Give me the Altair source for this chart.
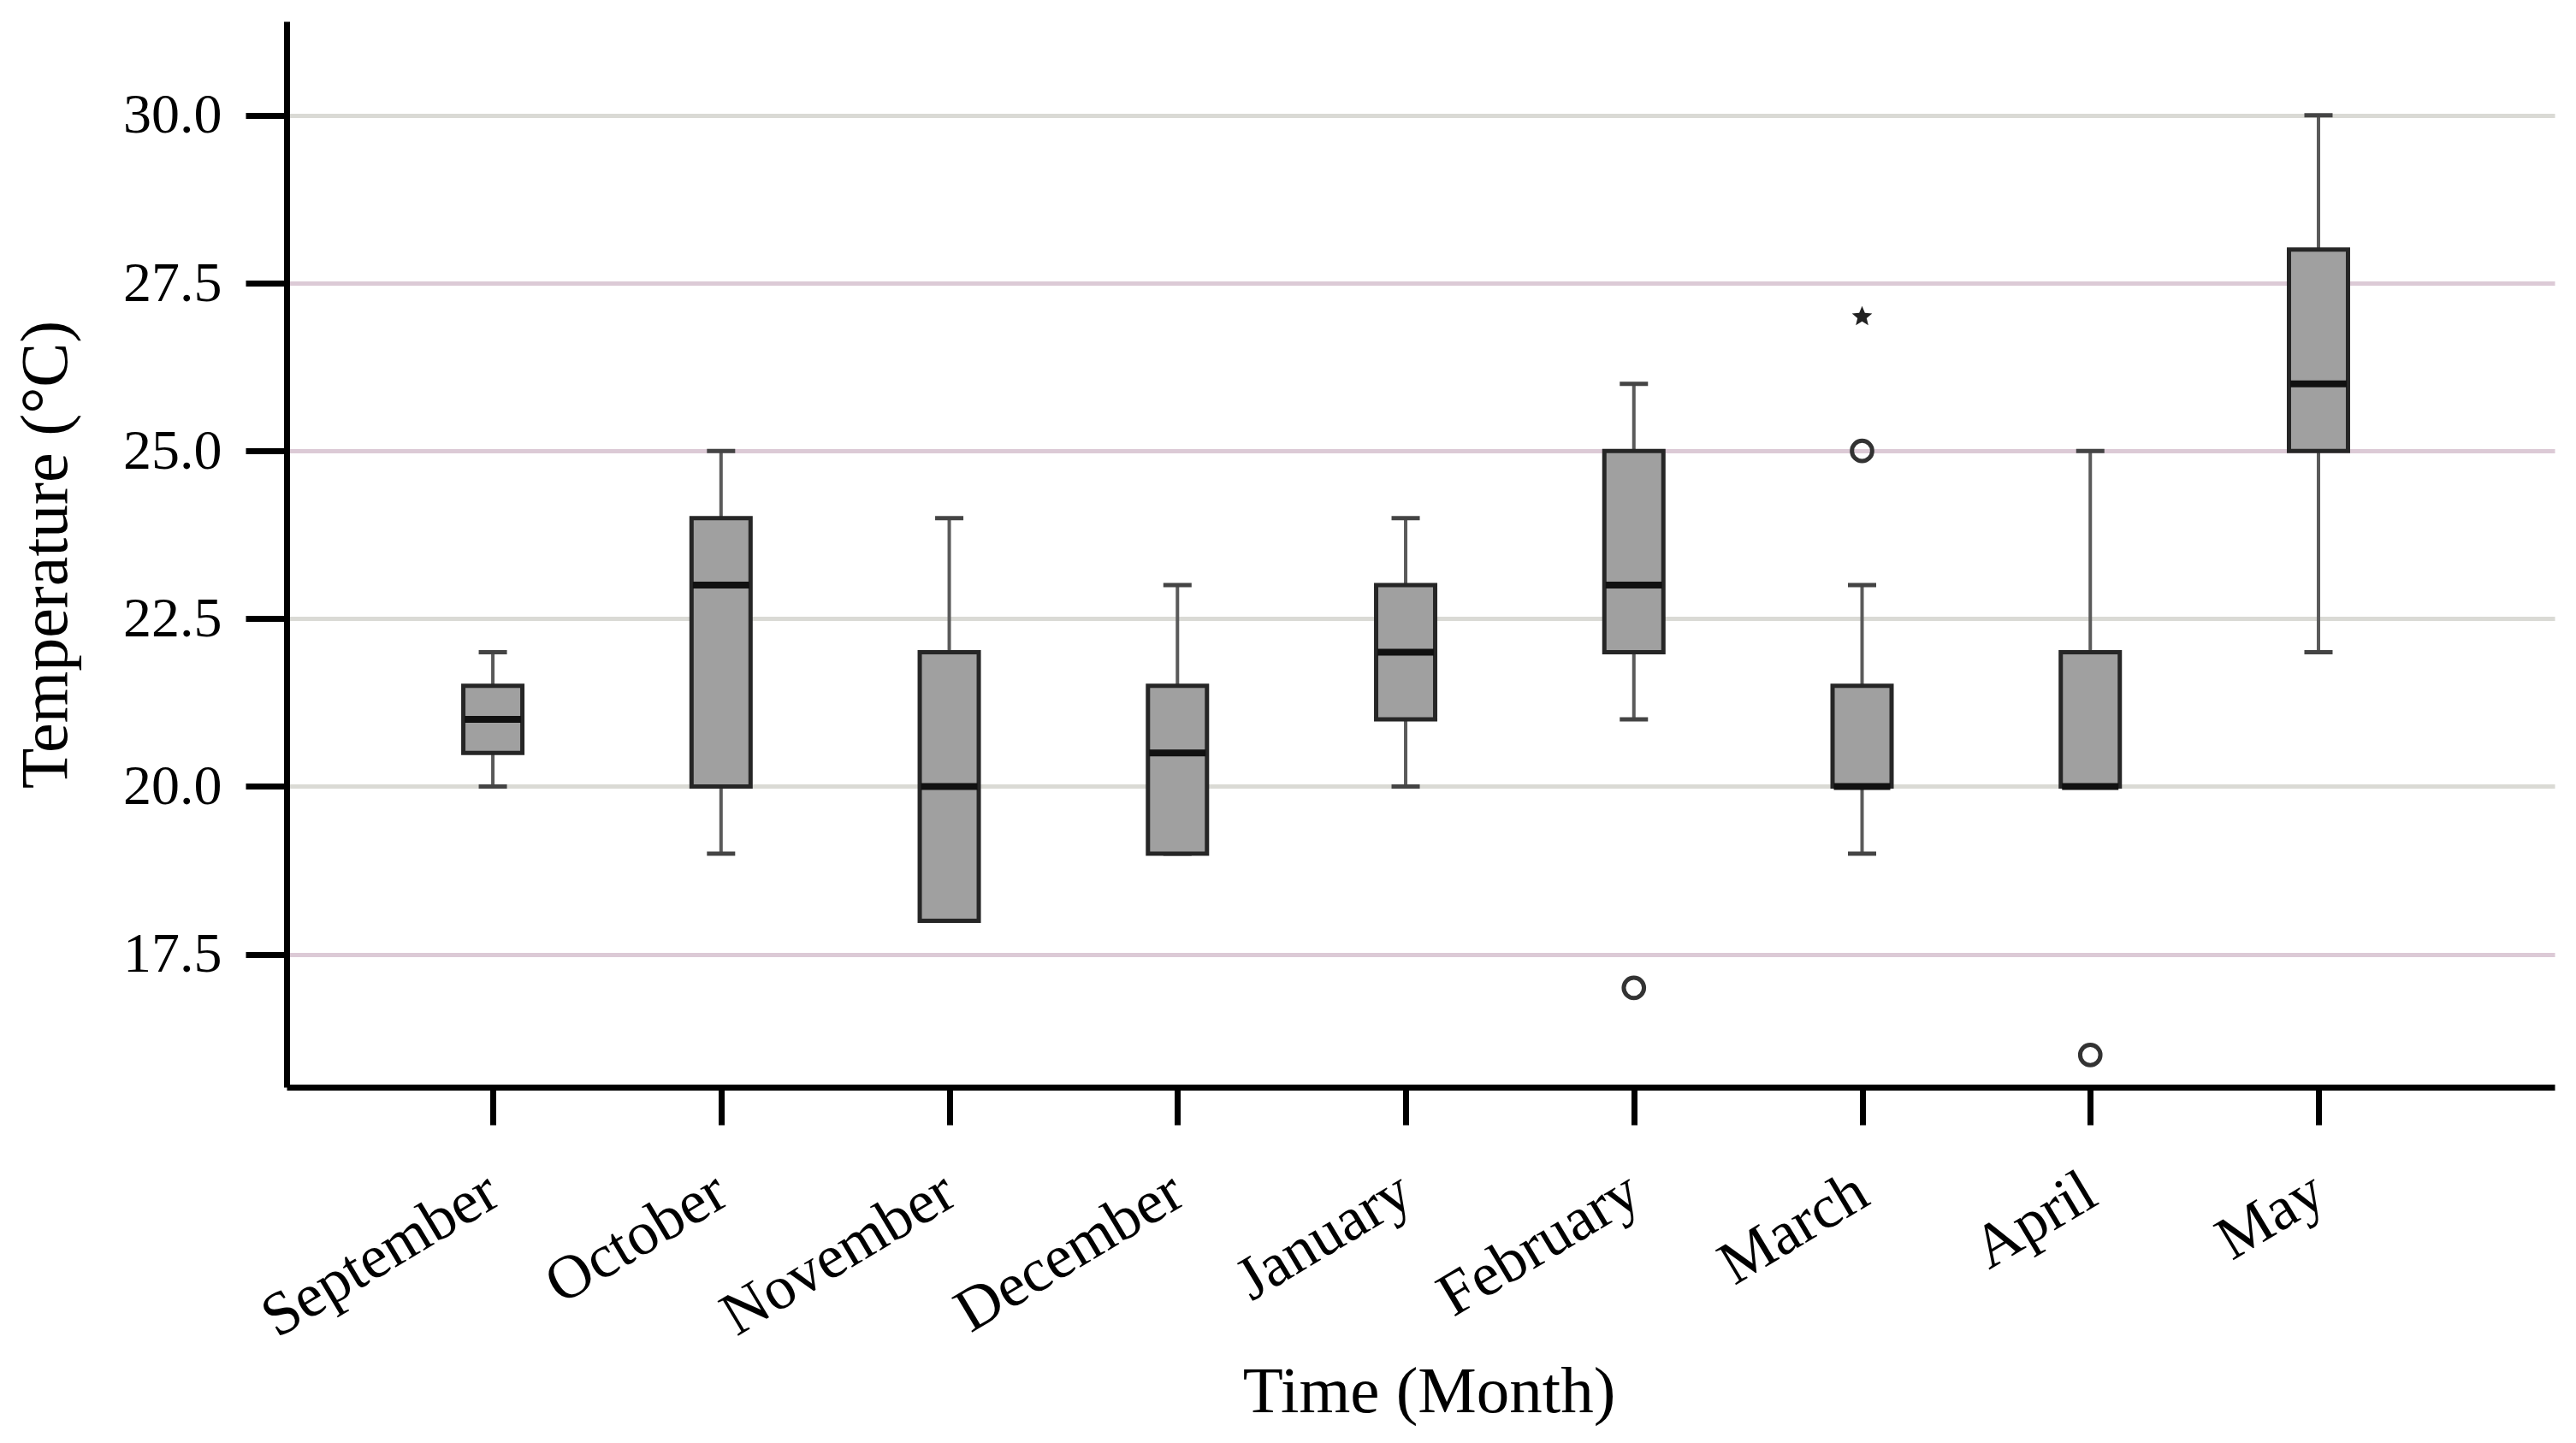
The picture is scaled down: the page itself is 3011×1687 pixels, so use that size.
import math
import altair as alt
import pandas as pd

months = ["September", "October", "November", "December", "January",
          "February", "March", "April", "May"]
whisker_low = [20.0, 19.0, 18.0, 19.0, 20.0, 21.0, 19.0, 20.0, 22.0]
q1 = [20.5, 20.0, 18.0, 19.0, 21.0, 22.0, 20.0, 20.0, 25.0]
median = [21.0, 23.0, 20.0, 20.5, 22.0, 23.0, 20.0, 20.0, 26.0]
q3 = [21.5, 24.0, 22.0, 21.5, 23.0, 25.0, 21.5, 22.0, 28.0]
whisker_high = [22.0, 25.0, 24.0, 23.0, 24.0, 26.0, 23.0, 25.0, 30.0]

outlier_month = ["February", "March", "April"]
outlier_value = [17.0, 25.0, 16.0]
extreme_month = ["March"]
extreme_value = [27.0]

y_ticks = [17.5, 20.0, 22.5, 25.0, 27.5, 30.0]
pink_grid = [17.5, 25.0, 27.5]

box_df = pd.DataFrame({
    "i": list(range(len(months))),
    "month": months,
    "lo": whisker_low, "q1": q1, "med": median, "q3": q3, "hi": whisker_high,
})
out_df = pd.DataFrame({"i": [months.index(m) for m in outlier_month],
                       "v": outlier_value})
ext_df = pd.DataFrame({"i": [months.index(m) for m in extreme_month],
                       "v": extreme_value})

# five-pointed star marker shape
pts = []
for k in range(10):
    r = 1.0 if k % 2 == 0 else 0.45
    a = -math.pi / 2 + k * math.pi / 5
    pts.append("%.3f,%.3f" % (r * math.cos(a), r * math.sin(a)))
star_path = "M" + "L".join(pts) + "Z"

FONT = "Liberation Serif"
label_expr = "[" + ",".join("'%s'" % m for m in months) + "][datum.value]"
grid_test = " || ".join("datum.value == %s" % v for v in pink_grid)

x_scale = alt.Scale(domain=[-0.885, 9.016], nice=False, zero=False)
y_scale = alt.Scale(domain=[15.52, 31.40], nice=False, zero=False)

x_axis = alt.Axis(
    orient="bottom",
    values=list(range(len(months))), labelExpr=label_expr, title="Time (Month)",
    grid=False, labelAngle=-31, labelAlign="right", labelBaseline="middle",
    labelFont=FONT, labelFontSize=72, labelColor="black", labelPadding=72,
    labelLimit=0, labelOverlap=False,
    tickSize=44, tickWidth=7, tickColor="black", domainWidth=7, domainColor="black",
    titleFont=FONT, titleFontSize=77, titleFontWeight="normal", titleColor="black",
    titleX=1335, titleY=379, titleBaseline="alphabetic", titleAlign="center",
)
y_axis = alt.Axis(
    orient="left",
    values=y_ticks, format=".1f", title="Temperature (°C)",
    grid=True, gridWidth=5,
    gridColor={"condition": {"test": grid_test, "value": "#dccad6"}, "value": "#dadad5"},
    labelFont=FONT, labelFontSize=66, labelColor="black", labelPadding=28,
    tickSize=48, tickWidth=7, tickColor="black", domainWidth=7, domainColor="black",
    titleFont=FONT, titleFontSize=78, titleFontWeight="normal", titleColor="black",
    titleX=-258, titleY=623, titleBaseline="alphabetic", titleAlign="center",
    titleAngle=270,
)

X = alt.X("i:Q", scale=x_scale, axis=x_axis)

base = alt.Chart(box_df)

whisker = base.mark_rule(color="#5a5a5a", strokeWidth=4).encode(
    x=X,
    y=alt.Y("lo:Q", scale=y_scale, axis=y_axis),
    y2="hi:Q",
)
cap_lo = base.mark_tick(orient="horizontal", size=33, thickness=5, color="#444444",
                        opacity=1).encode(
    x=X, y=alt.Y("lo:Q", scale=y_scale, axis=y_axis))
cap_hi = base.mark_tick(orient="horizontal", size=33, thickness=5, color="#444444",
                        opacity=1).encode(
    x=X, y=alt.Y("hi:Q", scale=y_scale, axis=y_axis))
box = base.mark_bar(size=69, orient="vertical", fill="#a0a0a0", stroke="#262626",
                    strokeWidth=5).encode(
    x=X, y=alt.Y("q1:Q", scale=y_scale, axis=y_axis), y2="q3:Q")
med = base.mark_tick(orient="horizontal", size=66, thickness=8, color="#111111",
                     opacity=1).encode(
    x=X, y=alt.Y("med:Q", scale=y_scale, axis=y_axis))
outl = alt.Chart(out_df).mark_point(shape="circle", filled=False, size=560,
                                    strokeWidth=5, color="#333333", opacity=1).encode(
    x=X, y=alt.Y("v:Q", scale=y_scale, axis=y_axis))
ext = alt.Chart(ext_df).mark_point(shape=star_path, filled=True, size=620,
                                   color="#222222", opacity=1).encode(
    x=X, y=alt.Y("v:Q", scale=y_scale, axis=y_axis))

chart = alt.layer(whisker, cap_lo, cap_hi, box, med, outl, ext).properties(
    width=2651, height=1246,
    autosize="none",
    padding={"left": 327, "top": 17, "right": 10, "bottom": 400},
    background="white",
).configure_view(stroke=None)

chart.save("out.html", embed_options={"renderer": "svg", "actions": False})
